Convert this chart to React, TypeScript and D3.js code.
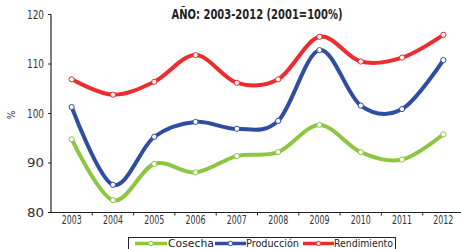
import React from "react";
import * as d3 from "d3";

const years = ["2003","2004","2005","2006","2007","2008","2009","2010","2011","2012"];
const cosecha = [94.8, 82.5, 89.8, 88.1, 91.4, 92.2, 97.7, 92.2, 90.7, 95.8];
const produccion = [101.3, 85.6, 95.3, 98.3, 96.9, 98.5, 112.8, 101.6, 100.9, 110.8];
const rendimiento = [106.9, 103.8, 106.4, 111.8, 106.2, 106.9, 115.5, 110.5, 111.3, 115.9];
const yTicks = [80, 90, 100, 110, 120];

const seriesNames = ["Cosecha", "Producción", "Rendimiento"];
const seriesColors = ["#8dc63f", "#2f4ea3", "#ee2b2e"];

export default function App() {
  const W = 461, H = 249;
  const left = 51, right = 464, top = 14.5, bottom = 212.5;
  const x = d3.scaleBand<string>().domain(years).range([left, right]);
  const y = d3.scaleLinear().domain([80, 120]).range([bottom, top]);
  const cx = (yr: string) => (x(yr) as number) + x.bandwidth() / 2;
  const line = d3.line<number>()
    .x((_, i) => cx(years[i]))
    .y((d) => y(d))
    .curve(d3.curveCardinal.tension(0));
  const data = [cosecha, produccion, rendimiento];
  const font = "'DejaVu Sans Condensed', 'DejaVu Sans', sans-serif";
  const legendItems = [
    { x1: 135, x2: 167, tx: 168, tw: 46 },
    { x1: 215, x2: 246, tx: 246, tw: 53 },
    { x1: 303, x2: 334, tx: 334, tw: 59 },
  ];
  return (
    <svg width={W} height={H} style={{ position: "absolute", left: 0, top: 0, background: "#fff" }}>
      <text x={257} y={19} textAnchor="middle" fontFamily={font} fontWeight="bold" fontSize={14.5}
        fill="#222" textLength={171} lengthAdjust="spacingAndGlyphs">AÑO: 2003-2012 (2001=100%)</text>
      {/* y axis */}
      <line x1={left} x2={left} y1={top} y2={bottom} stroke="#222" strokeWidth={1.2} />
      {yTicks.map((t) => (
        <g key={t}>
          <line x1={left - 3} x2={left} y1={y(t)} y2={y(t)} stroke="#222" />
          <text x={44} y={y(t) + 4} textAnchor="end" fontFamily={font} fontSize={12} fill="#333"
            textLength={17} lengthAdjust="spacingAndGlyphs">{t}</text>
        </g>
      ))}
      <text transform={`translate(15,115) rotate(-90)`} textAnchor="middle" fontFamily={font} fontSize={10} fill="#333">%</text>
      {/* x axis */}
      <line x1={left} x2={right} y1={bottom} y2={bottom} stroke="#222" strokeWidth={1.2} />
      {years.map((yr, i) => (
        <g key={yr}>
          {i > 0 && <line x1={x(yr)} x2={x(yr)} y1={bottom} y2={bottom + 3} stroke="#222" />}
          <text x={cx(yr)} y={bottom + 11.5} textAnchor="middle" fontFamily={font} fontSize={12} fill="#333"
            textLength={20} lengthAdjust="spacingAndGlyphs">{yr}</text>
        </g>
      ))}
      {/* series */}
      {data.map((s, si) => (
        <g key={si}>
          <path d={line(s) || ""} fill="none" stroke={seriesColors[si]} strokeWidth={4} strokeLinecap="round" />
          {s.map((v, i) => (
            <circle key={i} cx={cx(years[i])} cy={y(v)} r={2.6} fill="#fff" stroke={seriesColors[si]} strokeWidth={1} />
          ))}
        </g>
      ))}
      {/* legend */}
      <rect x={128.5} y={237.5} width={267} height={20} fill="#fff" stroke="#222" strokeWidth={1} />
      {seriesNames.map((n, i) => {
        const it = legendItems[i];
        const ly = 243.5;
        return (
          <g key={n}>
            <line x1={it.x1} x2={it.x2} y1={ly} y2={ly} stroke={seriesColors[i]} strokeWidth={3.5} />
            <circle cx={(it.x1 + it.x2) / 2} cy={ly} r={2.2} fill="#fff" stroke={seriesColors[i]} strokeWidth={1} />
            <text x={it.tx} y={247} fontFamily={font} fontSize={10.5} fill="#222"
              textLength={it.tw} lengthAdjust="spacingAndGlyphs">{n}</text>
          </g>
        );
      })}
    </svg>
  );
}
